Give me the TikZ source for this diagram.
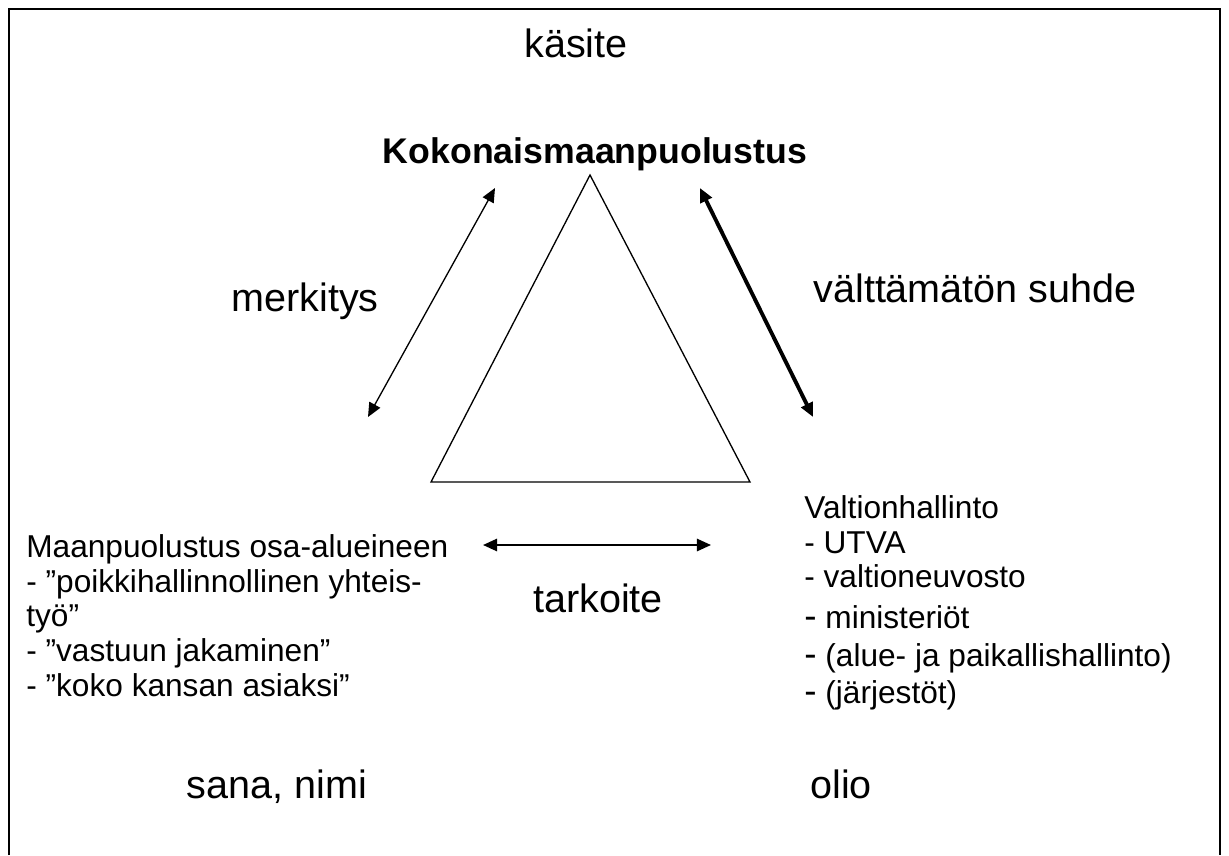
\documentclass[tikz,border=0pt]{standalone}
\usepackage{fontspec}
\setmainfont{Liberation Sans}
\usetikzlibrary{arrows.meta}

\newcommand{\bigdash}{{\fontsize{21}{19.8}\selectfont -}}

\begin{document}
\begin{tikzpicture}[
  x=0.02cm,y=-0.02cm,
  frame/.style={line width=1.1pt},
  triangle/.style={line width=0.75pt,line join=miter},
  link/.style={{Triangle[length=8pt,width=7pt]}-{Triangle[length=8pt,width=7pt]},line width=0.75pt},
  biglabel/.style={font=\fontsize{22.5}{27}\selectfont,inner sep=0pt,anchor=base},
  title/.style={font=\fontsize{20.3}{24}\selectfont\bfseries,inner sep=0pt,anchor=base},
  listtext/.style={font=\fontsize{18}{19.8}\selectfont,align=left,inner sep=0pt,anchor=north west}
]
\useasboundingbox (0,0) rectangle (1229,855);
\draw[frame] (9,855) -- (9,9) -- (1220,9) -- (1220,855);

% labels
\node[biglabel] (kasite) at (576,58) {käsite};
\node[title] (kmp) at (595,163) {Kokonaismaanpuolustus};
\node[biglabel] (merkitys) at (305,311) {merkitys};
\node[biglabel] (suhde) at (975,302) {välttämätön suhde};
\node[biglabel] (tarkoite) at (598,612) {tarkoite};
\node[biglabel] (sana) at (277,798) {sana, nimi};
\node[biglabel] (olio) at (841,798) {olio};

% lists
\node[listtext] (vasen) at (26,534) {Maanpuolustus osa-alueineen\\
  - ”poikkihallinnollinen yhteis-\\
  työ”\\
  - ”vastuun jakaminen”\\
  - ”koko kansan asiaksi”};
\node[listtext] (oikea) at (804,495) {Valtionhallinto\\
  - UTVA\\
  - valtioneuvosto\\[3.5pt]
  \bigdash{} ministeriöt\\[1.5pt]
  \bigdash{} (alue- ja paikallishallinto)\\[1.5pt]
  \bigdash{} (järjestöt)};

% triangle
\coordinate (huippu) at (590,175);
\coordinate (vala) at (431,482);
\coordinate (oala) at (750,482);
\draw[triangle] (huippu) -- (vala) -- (oala) -- cycle;

% arrows
\coordinate (m1) at (368,417);
\coordinate (m2) at (495,188);
\coordinate (s1) at (700,188);
\coordinate (s2) at (813,417);
\coordinate (t1) at (483,545);
\coordinate (t2) at (711,545);
\draw[link] (m1) -- (m2);
\draw[link,line width=2.2pt] (s1) -- (s2);
\draw[link,line width=1.1pt] (t1) -- (t2);
\end{tikzpicture}
\end{document}
